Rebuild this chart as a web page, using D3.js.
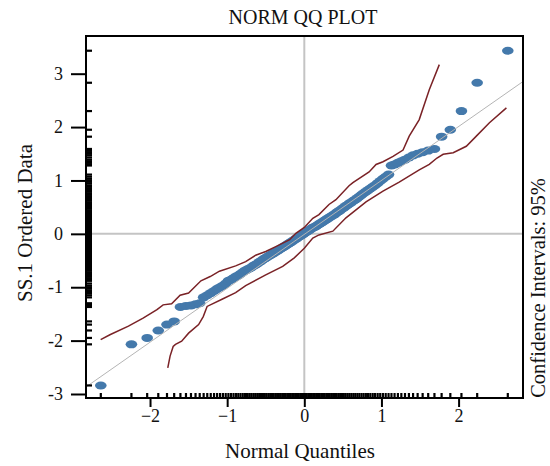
<!DOCTYPE html>
<html>
<head>
<meta charset="utf-8">
<script src="https://cdn.jsdelivr.net/npm/d3@7"></script>
<style>
  html, body { margin: 0; padding: 0; background: #fff; }
  svg { display: block; }
  text { font-family: "Liberation Serif", "Times New Roman", serif; fill: #111; }
</style>
</head>
<body>
<svg id="chart" width="550" height="466"></svg>
<script>
// Theoretical normal quantiles (n = 120)
const quantiles = [
  -2.638,-2.241,-2.037,-1.893,-1.780,-1.687,-1.606,-1.534,-1.469,-1.410,
  -1.356,-1.305,-1.258,-1.213,-1.170,-1.130,-1.092,-1.055,-1.019,-0.984,
  -0.951,-0.918,-0.887,-0.856,-0.827,-0.798,-0.769,-0.742,-0.714,-0.688,
  -0.661,-0.636,-0.610,-0.585,-0.561,-0.536,-0.512,-0.489,-0.465,-0.442,
  -0.419,-0.397,-0.374,-0.352,-0.330,-0.308,-0.286,-0.264,-0.243,-0.221,
  -0.200,-0.179,-0.157,-0.136,-0.115,-0.094,-0.073,-0.052,-0.031,-0.010,
  0.010,0.031,0.052,0.073,0.094,0.115,0.136,0.157,0.179,0.200,
  0.221,0.243,0.264,0.286,0.308,0.330,0.352,0.374,0.397,0.419,
  0.442,0.465,0.489,0.512,0.536,0.561,0.585,0.610,0.636,0.661,
  0.688,0.714,0.742,0.769,0.798,0.827,0.856,0.887,0.918,0.951,
  0.984,1.019,1.055,1.092,1.130,1.170,1.213,1.258,1.305,1.356,
  1.410,1.469,1.534,1.606,1.687,1.780,1.893,2.037,2.241,2.638
];

// SS.1 sample, sorted ascending
const ordered = [
  -2.84,-2.07,-1.95,-1.81,-1.70,-1.64,-1.37,-1.35,-1.34,-1.32,
  -1.30,-1.19,-1.15,-1.11,-1.07,-1.03,-1.00,-0.97,-0.93,-0.88,
  -0.86,-0.83,-0.80,-0.78,-0.75,-0.72,-0.69,-0.67,-0.65,-0.63,
  -0.60,-0.58,-0.56,-0.53,-0.51,-0.48,-0.46,-0.44,-0.42,-0.40,
  -0.38,-0.36,-0.34,-0.32,-0.30,-0.28,-0.26,-0.24,-0.22,-0.20,
  -0.18,-0.16,-0.14,-0.12,-0.10,-0.08,-0.06,-0.04,-0.02,0.00,
  0.02,0.04,0.06,0.08,0.10,0.12,0.13,0.15,0.17,0.19,
  0.21,0.23,0.25,0.27,0.29,0.31,0.33,0.35,0.37,0.40,
  0.42,0.44,0.47,0.49,0.52,0.54,0.57,0.59,0.62,0.64,
  0.67,0.70,0.73,0.76,0.79,0.82,0.85,0.88,0.91,0.95,
  0.99,1.03,1.07,1.11,1.28,1.30,1.33,1.36,1.39,1.43,
  1.47,1.50,1.53,1.56,1.59,1.82,1.95,2.30,2.83,3.43
];

// 95% confidence envelope
const upperQ = [-2.64,-2.52,-2.28,-2.09,-1.91,-1.83,-1.72,-1.61,-1.50,-1.34,-1.22,-1.10,-0.89,-0.76,-0.63,-0.50,-0.37,-0.19,-0.11,0.00,0.11,0.19,0.32,0.41,0.58,0.63,0.84,0.93,1.02,1.15,1.28,1.36,1.49,1.62,1.75];
const upperY = [-1.98,-1.89,-1.73,-1.58,-1.42,-1.33,-1.31,-1.15,-1.11,-0.88,-0.80,-0.70,-0.60,-0.52,-0.40,-0.33,-0.24,-0.11,0.01,0.12,0.29,0.36,0.55,0.64,0.90,0.96,1.16,1.30,1.35,1.45,1.57,1.83,2.14,2.70,3.17];
const lowerQ = [-1.77,-1.74,-1.70,-1.67,-1.59,-1.50,-1.37,-1.31,-1.26,-1.06,-0.89,-0.76,-0.50,-0.28,-0.13,0.00,0.11,0.19,0.37,0.54,0.80,1.02,1.23,1.49,1.62,1.72,1.80,1.93,2.10,2.23,2.40,2.62];
const lowerY = [-2.51,-2.29,-2.11,-2.07,-2.01,-1.86,-1.70,-1.55,-1.36,-1.22,-1.10,-0.97,-0.77,-0.61,-0.45,-0.27,-0.08,-0.02,0.05,0.30,0.60,0.80,0.97,1.20,1.30,1.42,1.49,1.52,1.64,1.83,2.08,2.36];

// Fitted reference line: y = intercept + slope * q
const refIntercept = -0.01;
const refSlope = 1.01;

const xTicks = [-2, -1, 0, 1, 2];
const yTicks = [-3, -2, -1, 0, 1, 2, 3];

const title = "NORM QQ PLOT";
const xTitle = "Normal Quantiles";
const yTitle = "SS.1 Ordered Data";
const sideTitle = "Confidence Intervals: 95%";

const L = 86, R = 523, T = 36, B = 398;
const x = d3.scaleLinear().domain([-2.83, 2.835]).range([L, R]);
const y = d3.scaleLinear().domain([-3.075, 3.706]).range([B, T]);

const svg = d3.select("#chart");

svg.append("defs").append("clipPath").attr("id", "plotClip")
  .append("rect").attr("x", L).attr("y", T).attr("width", R - L).attr("height", B - T);

const plot = svg.append("g").attr("clip-path", "url(#plotClip)");

// zero cross-hairs
plot.append("line")
  .attr("x1", x(0)).attr("x2", x(0)).attr("y1", T).attr("y2", B)
  .attr("stroke", "#c4c4c4").attr("stroke-width", 2);
plot.append("line")
  .attr("x1", L).attr("x2", R).attr("y1", y(0)).attr("y2", y(0))
  .attr("stroke", "#c4c4c4").attr("stroke-width", 2);

// sample points
const pts = quantiles.map((q, i) => ({ q, v: ordered[i] }));
plot.append("g").selectAll("ellipse").data(pts).join("ellipse")
  .attr("cx", d => x(d.q)).attr("cy", d => y(d.v))
  .attr("rx", 5.8).attr("ry", 4.0)
  .attr("fill", "#4479ab");

// reference line
const xd = x.domain();
plot.append("line")
  .attr("x1", x(xd[0])).attr("y1", y(refIntercept + refSlope * xd[0]))
  .attr("x2", x(xd[1])).attr("y2", y(refIntercept + refSlope * xd[1]))
  .attr("stroke", "#b4b4b4").attr("stroke-width", 1);

// confidence envelope
const line = d3.line().x(d => x(d[0])).y(d => y(d[1]));
plot.append("path")
  .attr("d", line(upperQ.map((q, i) => [q, upperY[i]])))
  .attr("fill", "none").attr("stroke", "#7a2226").attr("stroke-width", 1.5);
plot.append("path")
  .attr("d", line(lowerQ.map((q, i) => [q, lowerY[i]])))
  .attr("fill", "none").attr("stroke", "#7a2226").attr("stroke-width", 1.5);

// rugs
svg.append("g").selectAll("line").data(ordered).join("line")
  .attr("x1", L).attr("x2", L + 6)
  .attr("y1", d => y(d)).attr("y2", d => y(d))
  .attr("stroke", "#000").attr("stroke-width", 2.2);
svg.append("g").selectAll("line").data(quantiles).join("line")
  .attr("y1", B).attr("y2", B - 5)
  .attr("x1", d => x(d)).attr("x2", d => x(d))
  .attr("stroke", "#000").attr("stroke-width", 2.2);

// axes
const yAxis = svg.append("g").attr("transform", `translate(${L},0)`)
  .call(d3.axisLeft(y).tickValues(yTicks).tickSize(15).tickPadding(8)
    .tickFormat(d => d < 0 ? "-" + Math.abs(d) : String(d)));
const xAxis = svg.append("g").attr("transform", `translate(0,${B})`)
  .call(d3.axisBottom(x).tickValues(xTicks).tickSize(9).tickPadding(2)
    .tickFormat(d => d < 0 ? "\u2212" + Math.abs(d) : String(d)));
[yAxis, xAxis].forEach(g => {
  g.select(".domain").remove();
  g.selectAll(".tick line").attr("stroke", "#000").attr("stroke-width", 2);
  g.selectAll(".tick text").attr("font-family", "Liberation Serif, serif")
    .attr("font-size", 18).attr("fill", "#111");
});

// frame
svg.append("rect")
  .attr("x", L).attr("y", T).attr("width", R - L).attr("height", B - T)
  .attr("fill", "none").attr("stroke", "#000").attr("stroke-width", 2);

// titles
svg.append("text").attr("x", 303).attr("y", 24).attr("text-anchor", "middle")
  .attr("font-size", 20).text(title);
svg.append("text").attr("x", 300).attr("y", 458).attr("text-anchor", "middle")
  .attr("font-size", 21).text(xTitle);
svg.append("text").attr("transform", "translate(32,223) rotate(-90)")
  .attr("text-anchor", "middle").attr("font-size", 21).text(yTitle);
svg.append("text").attr("transform", "translate(545,288) rotate(-90)")
  .attr("text-anchor", "middle").attr("font-size", 20.5).text(sideTitle);
</script>
</body>
</html>
